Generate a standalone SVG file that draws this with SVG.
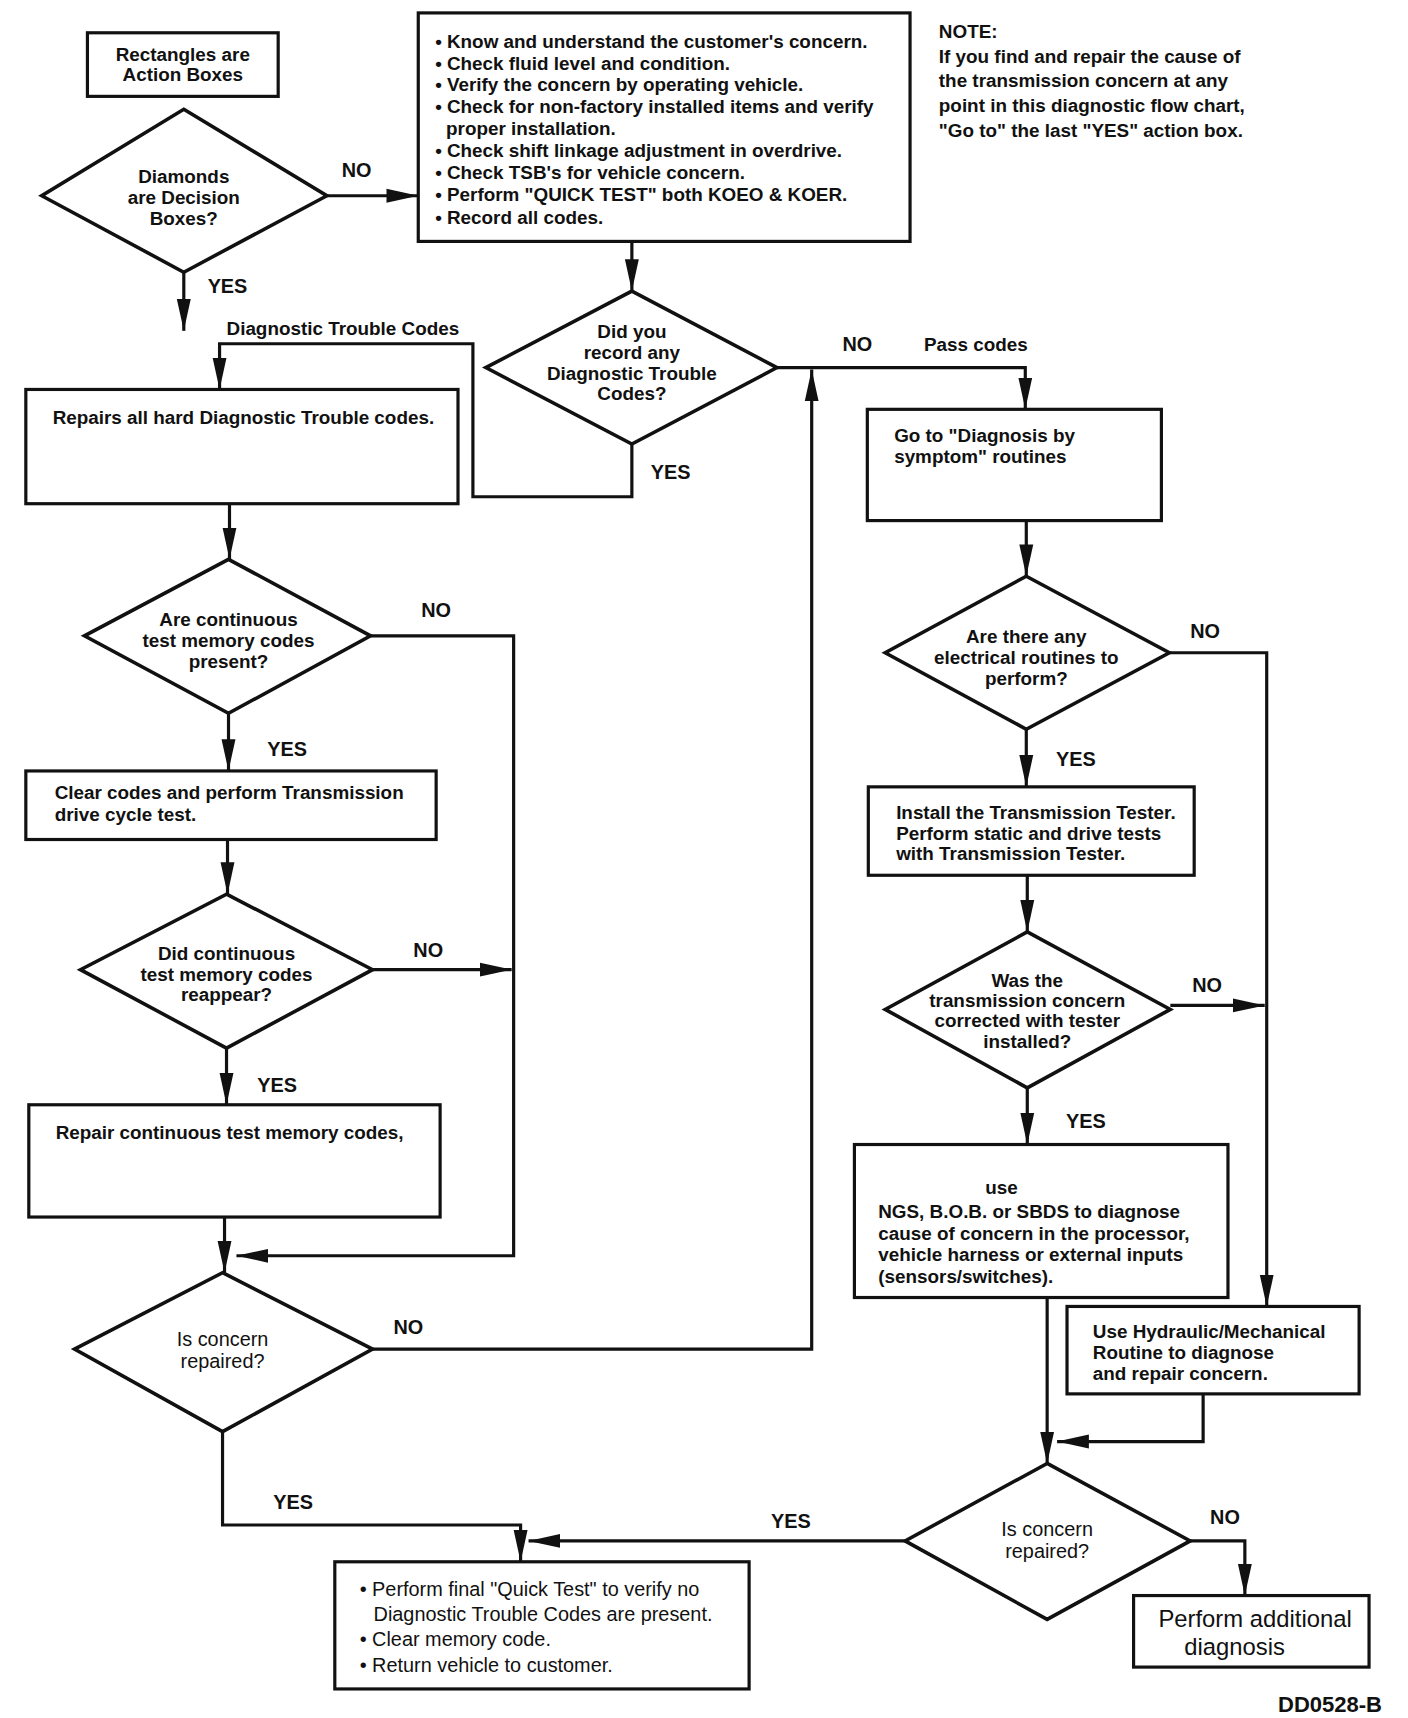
<svg xmlns="http://www.w3.org/2000/svg" width="1408" height="1718" viewBox="0 0 1408 1718">
<style>
.bg{fill:#fff}
.box{fill:#fff;stroke:#111;stroke-width:3.2}
.dia{fill:#fff;stroke:#111;stroke-width:3.6;stroke-linejoin:miter}
.t{font-family:"Liberation Sans",Arial,sans-serif;font-size:19px;font-weight:bold;fill:#111}
.lt{font-family:"Liberation Sans",Arial,sans-serif;font-size:20px;font-weight:normal;fill:#111}
.big{font-family:"Liberation Sans",Arial,sans-serif;font-size:24px;font-weight:normal;fill:#111}
.lab{font-family:"Liberation Sans",Arial,sans-serif;font-size:20px;font-weight:bold;fill:#111;text-anchor:middle}
.c{text-anchor:middle}
.con path{fill:none;stroke:#111;stroke-width:3.2}
</style>
<defs>
<marker id="ah" markerUnits="userSpaceOnUse" markerWidth="34" markerHeight="16" refX="32" refY="8" orient="auto">
<path d="M0,1 L32,8 L0,15 z" fill="#111"/>
</marker>
</defs>
<rect class="bg" x="0" y="0" width="1408" height="1718"/>

<g transform="scale(0.9935)">
<g id="connectors" class="con">
<path d="M329,197 H421" marker-end="url(#ah)"/>
<path d="M185,274 V333" marker-end="url(#ah)"/>
<path d="M636,243 V293" marker-end="url(#ah)"/>
<path d="M636,447 V500 H476 V346 H221 V392" marker-end="url(#ah)"/>
<path d="M231,507 V563" marker-end="url(#ah)"/>
<path d="M230,718 V776" marker-end="url(#ah)"/>
<path d="M229,845 V900" marker-end="url(#ah)"/>
<path d="M228,1055 V1112" marker-end="url(#ah)"/>
<path d="M226,1225 V1281" marker-end="url(#ah)"/>
<path d="M373,640 H517 V1264 H238" marker-end="url(#ah)"/>
<path d="M375,976 H515" marker-end="url(#ah)"/>
<path d="M375,1358 H817 V372" marker-end="url(#ah)"/>
<path d="M782,370 H1032 V412" marker-end="url(#ah)"/>
<path d="M1033,524 V580" marker-end="url(#ah)"/>
<path d="M1033,734 V792" marker-end="url(#ah)"/>
<path d="M1034,881 V938" marker-end="url(#ah)"/>
<path d="M1034,1095 V1152" marker-end="url(#ah)"/>
<path d="M1177,657 H1275 V1315" marker-end="url(#ah)"/>
<path d="M1178,1012 H1273" marker-end="url(#ah)"/>
<path d="M1054,1306 V1473" marker-end="url(#ah)"/>
<path d="M1211,1403 V1451 H1064" marker-end="url(#ah)"/>
<path d="M224,1441 V1535 H524 V1572" marker-end="url(#ah)"/>
<path d="M911,1551 H532" marker-end="url(#ah)"/>
<path d="M1198,1551 H1253 V1606" marker-end="url(#ah)"/>
</g>

<g id="labels">
<text class="lab" x="359" y="178">NO</text>
<text class="lab" x="229" y="295">YES</text>
<text class="t" x="228" y="337">Diagnostic Trouble Codes</text>
<text class="lab" x="675" y="482">YES</text>
<text class="lab" x="863" y="353">NO</text>
<text class="t" x="930" y="353">Pass codes</text>
<text class="lab" x="439" y="621">NO</text>
<text class="lab" x="289" y="761">YES</text>
<text class="lab" x="431" y="963">NO</text>
<text class="lab" x="279" y="1099">YES</text>
<text class="lab" x="411" y="1343">NO</text>
<text class="lab" x="295" y="1519">YES</text>
<text class="lab" x="1213" y="642">NO</text>
<text class="lab" x="1083" y="771">YES</text>
<text class="lab" x="1215" y="998">NO</text>
<text class="lab" x="1093" y="1135">YES</text>
<text class="lab" x="796" y="1538">YES</text>
<text class="lab" x="1233" y="1534">NO</text>
</g>

<g id="legend">
<rect class="box" x="88" y="33" width="192" height="64"/>
<text class="t c" x="184" y="61">Rectangles are</text>
<text class="t c" x="184" y="82">Action Boxes</text>
</g>

<g id="d1">
<polygon class="dia" points="185,110 329,197 185,274 42,197"/>
<text class="t c" x="185" y="184">Diamonds</text>
<text class="t c" x="185" y="205">are Decision</text>
<text class="t c" x="185" y="226">Boxes?</text>
</g>

<g id="checks">
<rect class="box" x="421" y="13" width="495" height="230"/>
<text class="t" x="438" y="48">• Know and understand the customer's concern.</text>
<text class="t" x="438" y="70">• Check fluid level and condition.</text>
<text class="t" x="438" y="92">• Verify the concern by operating vehicle.</text>
<text class="t" x="438" y="114">• Check for non-factory installed items and verify</text>
<text class="t" x="449" y="136">proper installation.</text>
<text class="t" x="438" y="158">• Check shift linkage adjustment in overdrive.</text>
<text class="t" x="438" y="180">• Check TSB's for vehicle concern.</text>
<text class="t" x="438" y="202">• Perform "QUICK TEST" both KOEO &amp; KOER.</text>
<text class="t" x="438" y="225">• Record all codes.</text>
</g>

<g id="note">
<text class="t" x="945" y="38">NOTE:</text>
<text class="t" x="945" y="63">If you find and repair the cause of</text>
<text class="t" x="945" y="88">the transmission concern at any</text>
<text class="t" x="945" y="113">point in this diagnostic flow chart,</text>
<text class="t" x="945" y="138">"Go to" the last "YES" action box.</text>
</g>

<g id="d2">
<polygon class="dia" points="636,293 782,370 636,447 489,370"/>
<text class="t c" x="636" y="340">Did you</text>
<text class="t c" x="636" y="361">record any</text>
<text class="t c" x="636" y="382">Diagnostic Trouble</text>
<text class="t c" x="636" y="403">Codes?</text>
</g>

<g id="repairs">
<rect class="box" x="26" y="392" width="435" height="115"/>
<text class="t" x="53" y="427">Repairs all hard Diagnostic Trouble codes.</text>
</g>

<g id="d3">
<polygon class="dia" points="230,563 373,640 230,718 85,640"/>
<text class="t c" x="230" y="630">Are continuous</text>
<text class="t c" x="230" y="651">test memory codes</text>
<text class="t c" x="230" y="672">present?</text>
</g>

<g id="clear">
<rect class="box" x="26" y="776" width="413" height="69"/>
<text class="t" x="55" y="804">Clear codes and perform Transmission</text>
<text class="t" x="55" y="826">drive cycle test.</text>
</g>

<g id="d4">
<polygon class="dia" points="228,900 375,976 228,1055 81,976"/>
<text class="t c" x="228" y="966">Did continuous</text>
<text class="t c" x="228" y="987">test memory codes</text>
<text class="t c" x="228" y="1008">reappear?</text>
</g>

<g id="repaircont">
<rect class="box" x="29" y="1112" width="414" height="113"/>
<text class="t" x="56" y="1146">Repair continuous test memory codes,</text>
</g>

<g id="d5">
<polygon class="dia" points="224,1281 375,1358 224,1441 75,1358"/>
<text class="lt c" x="224" y="1355">Is concern</text>
<text class="lt c" x="224" y="1377">repaired?</text>
</g>

<g id="final">
<rect class="box" x="337" y="1572" width="417" height="128"/>
<text class="lt" x="362" y="1606">• Perform final "Quick Test" to verify no</text>
<text class="lt" x="376" y="1632">Diagnostic Trouble Codes are present.</text>
<text class="lt" x="362" y="1657">• Clear memory code.</text>
<text class="lt" x="362" y="1683">• Return vehicle to customer.</text>
</g>

<g id="symptom">
<rect class="box" x="873" y="412" width="296" height="112"/>
<text class="t" x="900" y="445">Go to "Diagnosis by</text>
<text class="t" x="900" y="466">symptom" routines</text>
</g>

<g id="d6">
<polygon class="dia" points="1033,580 1177,657 1033,734 891,657"/>
<text class="t c" x="1033" y="647">Are there any</text>
<text class="t c" x="1033" y="668">electrical routines to</text>
<text class="t c" x="1033" y="689">perform?</text>
</g>

<g id="tester">
<rect class="box" x="874" y="792" width="328" height="89"/>
<text class="t" x="902" y="824">Install the Transmission Tester.</text>
<text class="t" x="902" y="845">Perform static and drive tests</text>
<text class="t" x="902" y="866">with Transmission Tester.</text>
</g>

<g id="d7">
<polygon class="dia" points="1034,938 1178,1016 1034,1095 891,1016"/>
<text class="t c" x="1034" y="993">Was the</text>
<text class="t c" x="1034" y="1014">transmission concern</text>
<text class="t c" x="1034" y="1034">corrected with tester</text>
<text class="t c" x="1034" y="1055">installed?</text>
</g>

<g id="ngs">
<rect class="box" x="860" y="1152" width="376" height="154"/>
<text class="t c" x="1008" y="1202">use</text>
<text class="t" x="884" y="1226">NGS, B.O.B. or SBDS to diagnose</text>
<text class="t" x="884" y="1248">cause of concern in the processor,</text>
<text class="t" x="884" y="1269">vehicle harness or external inputs</text>
<text class="t" x="884" y="1291">(sensors/switches).</text>
</g>

<g id="hydraulic">
<rect class="box" x="1074" y="1315" width="294" height="88"/>
<text class="t" x="1100" y="1347">Use Hydraulic/Mechanical</text>
<text class="t" x="1100" y="1368">Routine to diagnose</text>
<text class="t" x="1100" y="1389">and repair concern.</text>
</g>

<g id="d8">
<polygon class="dia" points="1054,1473 1198,1551 1054,1630 911,1551"/>
<text class="lt c" x="1054" y="1546">Is concern</text>
<text class="lt c" x="1054" y="1568">repaired?</text>
</g>

<g id="additional">
<rect class="box" x="1141" y="1606" width="237" height="72"/>
<text class="big" x="1166" y="1638">Perform additional</text>
<text class="big" x="1192" y="1666">diagnosis</text>
</g>
</g>

<text class="t" x="1382" y="1712" text-anchor="end" style="font-size:22px">DD0528-B</text>
</svg>
